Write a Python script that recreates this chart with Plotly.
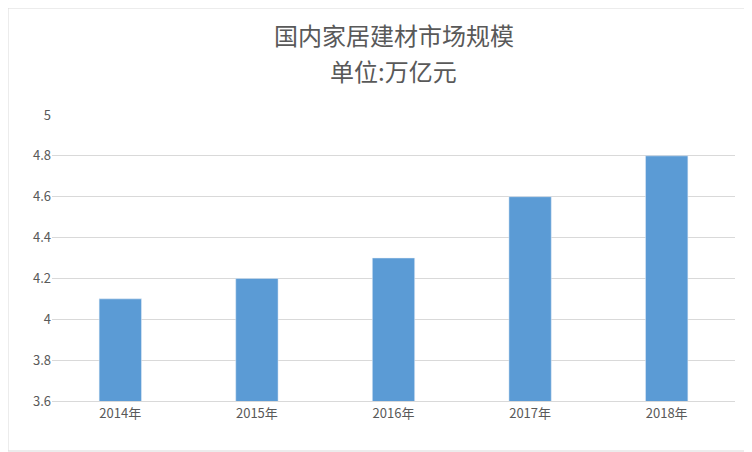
import plotly.graph_objects as go

years = ["2014年", "2015年", "2016年", "2017年", "2018年"]
scale = [4.1, 4.2, 4.3, 4.6, 4.8]
y_ticks = [3.6, 3.8, 4, 4.2, 4.4, 4.6, 4.8, 5]
title_lines = ["国内家居建材市场规模", "单位:万亿元"]

font_name = "Noto Sans CJK SC"
plot_h = 444 - 107 - 51
plot_w = 744 - 44 - 17

fig = go.Figure(go.Bar(x=years, y=scale, marker_color="#5b9bd5", width=0.31))

# title as two separate lines, placed by pixel
annots = []
for i, (txt, ypix) in enumerate(zip(title_lines, [27, 62])):
    annots.append(dict(text=txt, xref="paper", yref="paper", x=0.5, xanchor="center",
                       y=(107 + plot_h - ypix) / plot_h, yanchor="middle", showarrow=False,
                       font=dict(size=24, color="#595959")))

fig.update_layout(
    width=744, height=444,
    margin=dict(l=44, r=17, t=107, b=51),
    paper_bgcolor="white", plot_bgcolor="white",
    font=dict(family=font_name, color="#595959", size=13),
    annotations=annots,
    showlegend=False,
    xaxis=dict(showline=True, linecolor="#d9d9d9", ticks=""),
    yaxis=dict(range=[3.6, 5], tickvals=y_ticks, ticktext=[str(v) for v in y_ticks],
               gridcolor="#d9d9d9", zeroline=False, ticks=""),
    shapes=[dict(type="rect", xref="paper", yref="paper",
                 x0=-44 / plot_w, y0=-50 / plot_h, x1=(743 - 44) / plot_w, y1=(107 + plot_h) / plot_h,
                 line=dict(color="#d9d9d9", width=1))],
)

fig.write_html("out.html")
